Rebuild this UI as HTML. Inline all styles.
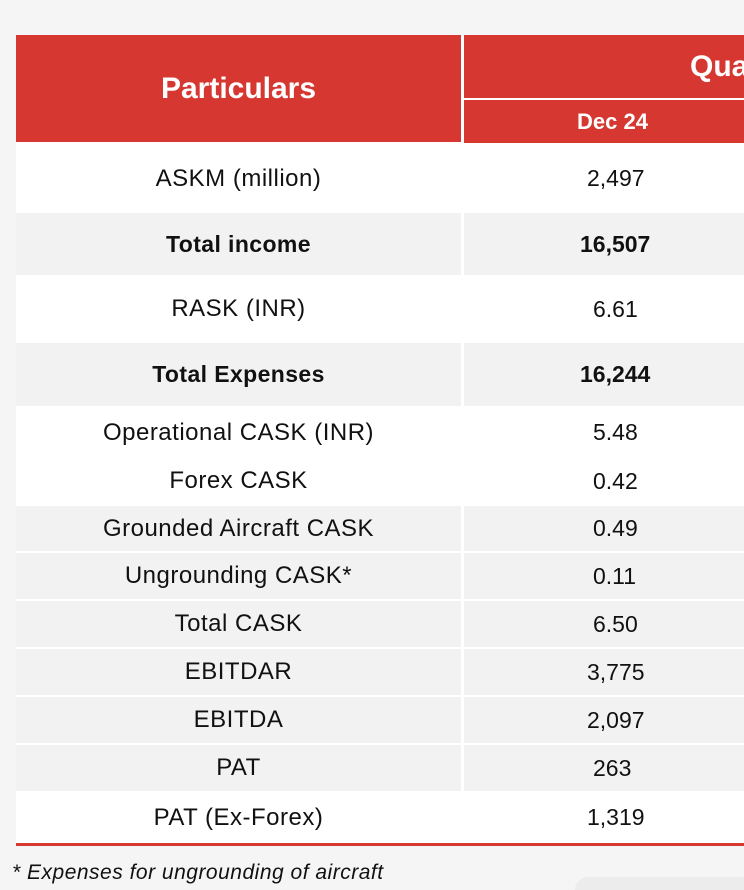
<!DOCTYPE html>
<html><head><meta charset="utf-8"><style>
html,body{margin:0;width:744px;height:890px;overflow:hidden;}
body{background:#f5f5f5;position:relative;font-family:"Liberation Sans",sans-serif;}
.c{position:absolute;display:flex;align-items:center;justify-content:center;font-size:24px;letter-spacing:0.5px;color:#111;white-space:nowrap;overflow:hidden;}
.v{font-size:23px;letter-spacing:0;justify-content:flex-start;}
.r{background:#d63731;color:#fff;font-weight:bold;}
.w{background:#fff}.g{background:#f2f2f2}
.b{font-weight:bold;font-size:23px;letter-spacing:0.4px}
</style></head><body>
<div style="position:absolute;left:16px;top:35px;width:728px;height:808px;background:#fff"></div>
<div class="c r" style="left:16px;top:35px;width:445px;height:107px;font-size:30px;letter-spacing:0">Particulars</div>
<div class="c r" style="left:464px;top:35px;width:280px;height:63px;font-size:30px;letter-spacing:0;justify-content:flex-start;"><span style="margin-left:226px">Quarter</span></div>
<div class="c r" style="left:464px;top:100px;width:280px;height:43px;font-size:22px;letter-spacing:0;justify-content:flex-start;"><span style="margin-left:113px">Dec 24</span></div>

<div class="c w" style="left:16px;top:145px;width:445px;height:67px">ASKM (million)</div>
<div class="c w v" style="left:464px;top:145px;width:280px;height:67px"><span style="margin-left:123px">2,497</span></div>

<div class="c g b" style="left:16px;top:213px;width:445px;height:62px">Total income</div>
<div class="c g b v" style="left:464px;top:213px;width:280px;height:62px;letter-spacing:0"><span style="margin-left:116px">16,507</span></div>

<div class="c w" style="left:16px;top:276px;width:445px;height:66px">RASK (INR)</div>
<div class="c w v" style="left:464px;top:276px;width:280px;height:66px"><span style="margin-left:129px">6.61</span></div>

<div class="c g b" style="left:16px;top:343px;width:445px;height:63px">Total Expenses</div>
<div class="c g b v" style="left:464px;top:343px;width:280px;height:63px;letter-spacing:0"><span style="margin-left:116px">16,244</span></div>

<div class="c w" style="left:16px;top:408px;width:445px;height:49px">Operational CASK (INR)</div>
<div class="c w v" style="left:464px;top:408px;width:280px;height:49px"><span style="margin-left:129px">5.48</span></div>
<div class="c w" style="left:16px;top:457px;width:445px;height:48px">Forex CASK</div>
<div class="c w v" style="left:464px;top:457px;width:280px;height:48px"><span style="margin-left:129px">0.42</span></div>

<div class="c g" style="left:16px;top:506px;width:445px;height:45px">Grounded Aircraft CASK</div>
<div class="c g v" style="left:464px;top:506px;width:280px;height:45px"><span style="margin-left:129px">0.49</span></div>
<div class="c g" style="left:16px;top:553px;width:445px;height:46px">Ungrounding CASK*</div>
<div class="c g v" style="left:464px;top:553px;width:280px;height:46px"><span style="margin-left:129px">0.11</span></div>
<div class="c g" style="left:16px;top:601px;width:445px;height:46px">Total CASK</div>
<div class="c g v" style="left:464px;top:601px;width:280px;height:46px"><span style="margin-left:129px">6.50</span></div>
<div class="c g" style="left:16px;top:649px;width:445px;height:46px">EBITDAR</div>
<div class="c g v" style="left:464px;top:649px;width:280px;height:46px"><span style="margin-left:123px">3,775</span></div>
<div class="c g" style="left:16px;top:697px;width:445px;height:46px">EBITDA</div>
<div class="c g v" style="left:464px;top:697px;width:280px;height:46px"><span style="margin-left:123px">2,097</span></div>
<div class="c g" style="left:16px;top:745px;width:445px;height:46px">PAT</div>
<div class="c g v" style="left:464px;top:745px;width:280px;height:46px"><span style="margin-left:129px">263</span></div>
<div class="c w" style="left:16px;top:793px;width:445px;height:49px">PAT (Ex-Forex)</div>
<div class="c w v" style="left:464px;top:793px;width:280px;height:49px"><span style="margin-left:123px">1,319</span></div>

<div style="position:absolute;left:16px;top:843px;width:728px;height:3px;background:#d63731"></div>
<div style="position:absolute;left:12px;top:861px;font-size:21px;letter-spacing:0.5px;font-style:italic;color:#111;white-space:nowrap">* Expenses for ungrounding of aircraft</div>
<div style="position:absolute;left:575px;top:877px;width:169px;height:13px;border-radius:14px 0 0 0;background:#ececec"></div>
</body></html>
